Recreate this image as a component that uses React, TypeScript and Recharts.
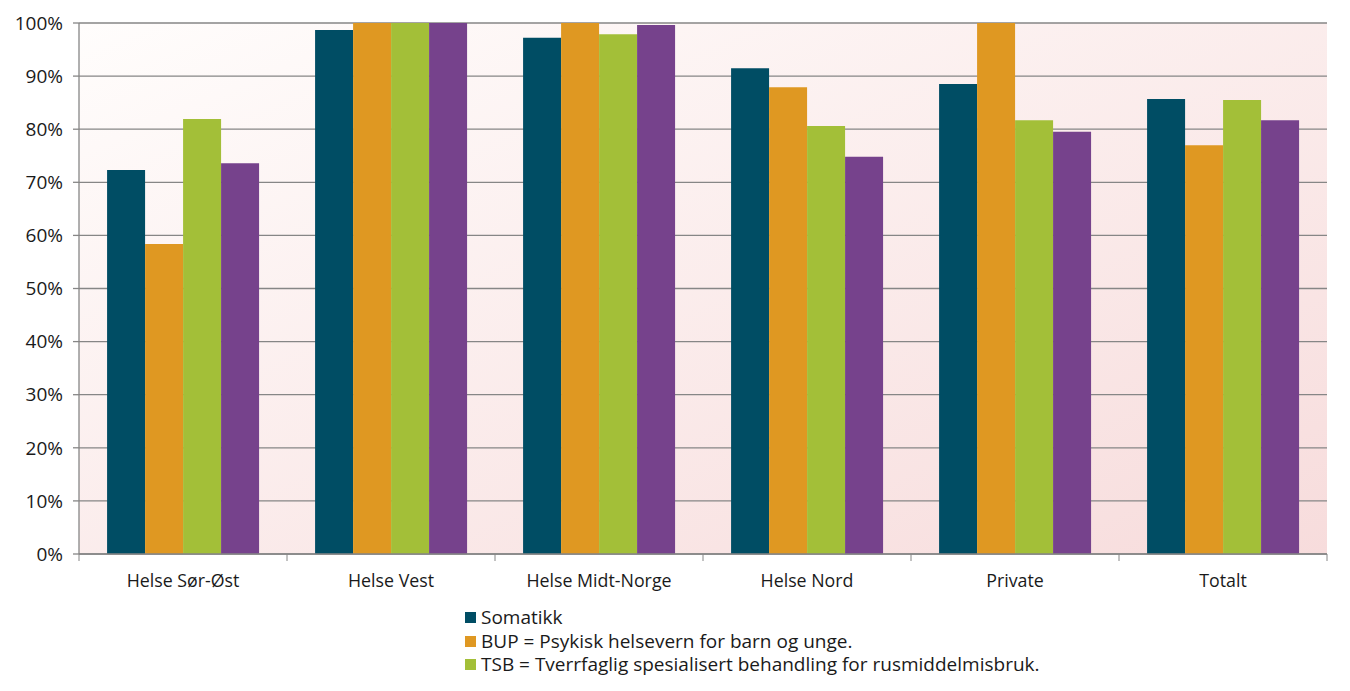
import { Bar, BarChart, CartesianGrid, XAxis, YAxis } from "recharts";

const regions = ["Helse Sør-Øst", "Helse Vest", "Helse Midt-Norge", "Helse Nord", "Private", "Totalt"];
const somatikk = [72.3, 98.7, 97.2, 91.5, 88.5, 85.7];
const bup = [58.4, 100, 100, 87.9, 100, 77.0];
const tsb = [81.9, 100, 97.9, 80.6, 81.7, 85.5];
const other = [73.6, 100, 99.6, 74.8, 79.5, 81.7];
const yTicks = [0, 10, 20, 30, 40, 50, 60, 70, 80, 90, 100];

const legendItems = [
  { label: "Somatikk", color: "#004d64" },
  { label: "BUP = Psykisk helsevern for barn og unge.", color: "#df9822" },
  { label: "TSB = Tverrfaglig spesialisert behandling for rusmiddelmisbruk.", color: "#a3bf38" },
];

const data = regions.map((name, i) => ({
  name,
  somatikk: somatikk[i],
  bup: bup[i],
  tsb: tsb[i],
  other: other[i],
}));

const FONT = "'Open Sans', 'Noto Sans', sans-serif";
const AXIS = "#868686";
const BAND = (1327 - 79) / regions.length;

function XTick(props: any) {
  const { x, y, payload, index } = props;
  const left = x - BAND / 2;
  return (
    <g>
      <line x1={left} y1={y - 8} x2={left} y2={y - 1} stroke={AXIS} strokeWidth={1} />
      {index === regions.length - 1 && (
        <line x1={left + BAND} y1={y - 8} x2={left + BAND} y2={y - 1} stroke={AXIS} strokeWidth={1} />
      )}
      <text x={x} y={y + 25} textAnchor="middle" fill="#1a1a1a" fontSize={17.8} fontFamily={FONT}>
        {payload.value}
      </text>
    </g>
  );
}

export default function App() {
  return (
    <div style={{ position: "absolute", left: 0, top: 0, width: 1350, height: 691, background: "#fff" }}>
      <BarChart
        width={1350}
        height={691}
        data={data}
        margin={{ top: 23, right: 23, left: 0, bottom: 0 }}
        barCategoryGap="13.5%"
        barGap={0}
      >
        <defs>
          <linearGradient id="bg" x1="0" y1="0" x2="1" y2="1">
            <stop offset="0%" stopColor="#fffdfc" />
            <stop offset="100%" stopColor="#f7dcdc" />
          </linearGradient>
        </defs>
        <CartesianGrid vertical={false} stroke={AXIS} strokeWidth={1.3} fill="url(#bg)" fillOpacity={1} />
        <XAxis
          dataKey="name"
          axisLine={{ stroke: AXIS, strokeWidth: 1.3 }}
          tickLine={false}
          tick={<XTick />}
          interval={0}
          height={137}
        />
        <YAxis
          domain={[0, 100]}
          ticks={yTicks}
          tickFormatter={(v) => `${v}%`}
          width={79}
          axisLine={{ stroke: AXIS, strokeWidth: 1.3 }}
          tickLine={{ stroke: AXIS, strokeWidth: 1.3 }}
          tickSize={6}
          tickMargin={10}
          tick={{ fill: "#1a1a1a", fontSize: 19, fontFamily: FONT }}
        />
        <Bar dataKey="somatikk" fill="#004d64" isAnimationActive={false} />
        <Bar dataKey="bup" fill="#df9822" isAnimationActive={false} />
        <Bar dataKey="tsb" fill="#a3bf38" isAnimationActive={false} />
        <Bar dataKey="other" fill="#76428c" isAnimationActive={false} />
      </BarChart>
      <div
        style={{
          position: "absolute",
          left: 465,
          top: 606,
          fontFamily: FONT,
          fontSize: 19,
          color: "#1a1a1a",
          lineHeight: "23.5px",
        }}
      >
        {legendItems.map((it) => (
          <div key={it.label} style={{ display: "flex", alignItems: "center", whiteSpace: "nowrap" }}>
            <span style={{ width: 11, height: 11, background: it.color, marginRight: 5, display: "inline-block" }} />
            {it.label}
          </div>
        ))}
      </div>
    </div>
  );
}
